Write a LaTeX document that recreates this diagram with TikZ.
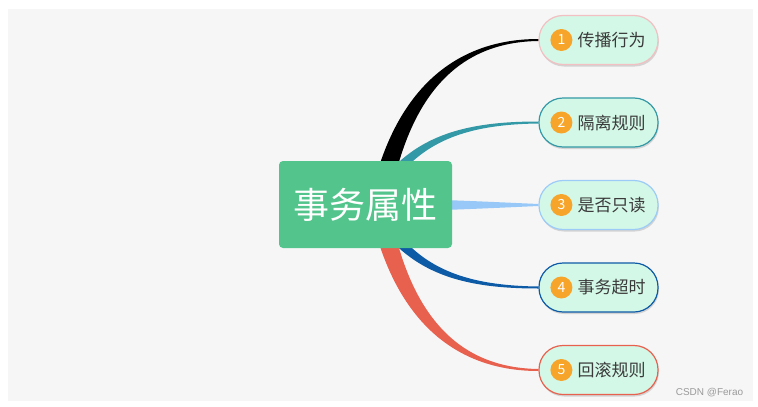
\documentclass[tikz,border=0pt]{standalone}
\usepackage{fontspec}
\setmainfont{Noto Sans CJK SC}
\newfontfamily\wmfont{Liberation Sans}
\usetikzlibrary{calc,shadows}
\definecolor{bggray}{HTML}{F6F6F6}
\definecolor{rootgreen}{HTML}{52C48C}
\definecolor{leafmint}{HTML}{D4F8E7}
\definecolor{numorange}{HTML}{F6A52A}
\definecolor{leaftext}{HTML}{3A3A3A}
\definecolor{bcA}{HTML}{F2BFC2}
\definecolor{bcB}{HTML}{3399A6}
\definecolor{bcC}{HTML}{9CCBF7}
\definecolor{bcD}{HTML}{0D5AA7}
\definecolor{bcE}{HTML}{E8604E}
\definecolor{brC}{HTML}{97C8F8}
\definecolor{wmgray}{HTML}{9A9A9A}
\tikzset{
  rootbox/.style={rectangle, rounded corners=4pt, fill=rootgreen, minimum width=173pt, minimum height=87pt, inner sep=0pt, text=white, font=\fontsize{36}{40}\selectfont},
  leafbox/.style={rectangle, rounded corners=24pt, fill=leafmint, line width=1.2pt, minimum width=119pt, minimum height=49pt, inner sep=0pt,
    drop shadow={shadow xshift=0.8pt, shadow yshift=-2pt, fill=black, opacity=0.14}},
  numdot/.style={circle, fill=numorange, minimum size=22pt, inner sep=0pt, text=white, font=\fontsize{14}{14}\selectfont},
  leaflabel/.style={anchor=west, inner sep=0pt, text=leaftext, font=\fontsize{17}{17}\selectfont},
}
\begin{document}
\begin{tikzpicture}[x=1pt,y=-1pt]
\useasboundingbox (0,0) rectangle (758,407);
\fill[white] (0,0) rectangle (758,407);
\fill[bggray] (8,9) rectangle (753,401);

% nodes (positions)
\node[leafbox, draw=bcA] (n1) at (598.5,40) {};
\node[leafbox, draw=bcB] (n2) at (598.5,122.5) {};
\node[leafbox, draw=bcC] (n3) at (598.5,205) {};
\node[leafbox, draw=bcD] (n4) at (598.5,287.5) {};
\node[leafbox, draw=bcE] (n5) at (598.5,370) {};
\coordinate (rc) at (365,205);

% branches
\fill[black] ($(rc)+(4,0)$) .. controls (394,82) and (462,39) .. ($(n1.west)+(0,-1)$)
  -- ($(n1.west)+(0,1)$) .. controls (465,42) and (410,86) .. ($(rc)+(24,0)$) -- cycle;
\fill[bcB] ($(rc)+(1,0)$) .. controls (403,137) and (460,121.5) .. ($(n2.west)+(0,-1)$)
  -- ($(n2.west)+(0,1)$) .. controls (462,124.5) and (412,143) .. ($(rc)+(15,0)$) -- cycle;
\fill[brC] ($(rc)+(0,-7)$) .. controls (450,200) .. ($(n3.west)+(0,-1)$)
  -- ($(n3.west)+(0,1)$) .. controls (450,210) .. ($(rc)+(0,7)$) -- cycle;
\fill[bcD] ($(rc)+(1,0)$) .. controls (403,273) and (460,288.5) .. ($(n4.west)+(0,1)$)
  -- ($(n4.west)+(0,-1)$) .. controls (462,285.5) and (412,267) .. ($(rc)+(15,0)$) -- cycle;
\fill[bcE] ($(rc)+(4,0)$) .. controls (394,328) and (462,371) .. ($(n5.west)+(0,1)$)
  -- ($(n5.west)+(0,-1)$) .. controls (465,368) and (410,324) .. ($(rc)+(24,0)$) -- cycle;

% root
\node[rootbox] (root) at (365.5,204.5) {事务属性};

% leaf contents
\foreach \i/\t in {1/传播行为, 2/隔离规则, 3/是否只读, 4/事务超时, 5/回滚规则}{
  \node[numdot] (d\i) at ($(n\i.west)+(23,0)$) {\i};
  \node[leaflabel] (t\i) at ($(n\i.west)+(39,0)$) {\t};
}

\node[text=wmgray, font=\wmfont\fontsize{10}{10}\selectfont, inner sep=0pt] (wm) at (709.5,393) {CSDN @Ferao};
\end{tikzpicture}
\end{document}
